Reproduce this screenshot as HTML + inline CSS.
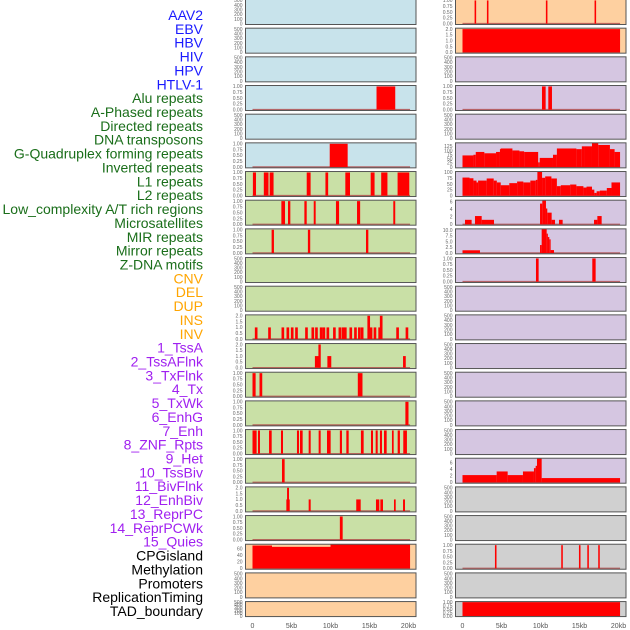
<!DOCTYPE html>
<html><head><meta charset="utf-8"><style>
html,body{margin:0;padding:0;background:#fff;}
svg{display:block;font-family:"Liberation Sans",sans-serif;}
</style></head><body>
<svg id="chart" width="630" height="630" viewBox="0 0 630 630"></svg>
<script>
// ---- data ----
const trackNames = ["AAV2","EBV","HBV","HIV","HPV","HTLV-1","Alu repeats","A-Phased repeats","Directed repeats","DNA transposons","G-Quadruplex forming repeats","Inverted repeats","L1 repeats","L2 repeats","Low_complexity A/T rich regions","Microsatellites","MIR repeats","Mirror repeats","Z-DNA motifs","CNV","DEL","DUP","INS","INV","1_TssA","2_TssAFlnk","3_TxFlnk","4_Tx","5_TxWk","6_EnhG","7_Enh","8_ZNF_Rpts","9_Het","10_TssBiv","11_BivFlnk","12_EnhBiv","13_ReprPC","14_ReprPCWk","15_Quies","CPGisland","Methylation","Promoters","ReplicationTiming","TAD_boundary"];
const trackGroups = ["v","v","v","v","v","v","r","r","r","r","r","r","r","r","r","r","r","r","r","s","s","s","s","s","c","c","c","c","c","c","c","c","c","c","c","c","c","c","c","o","o","o","o","o"];
const xTickValues = [0,5,10,15,20];
const xTickLabels = ["0","5kb","10kb","15kb","20kb"];
// segments: [startKb, endKb, value]
const segL3 = [[15.9,18.3,1]];
const segL5 = [[9.9,12.2,1]];
const segL6 = [[0.05,0.45,1],[1.45,2.05,1],[2.2,2.7,1],[6.95,7.45,1],[9.35,9.7,1],[11.9,12.5,1],[15.15,15.65,1],[16.5,17.3,1],[18.6,20.1,1]];
const segL7 = [[3.7,4.17,1],[4.55,4.85,1],[6.65,6.95,1],[7.85,8.1,1],[10.7,11.1,1],[13.4,13.8,1],[18.05,18.3,1]];
const segL8 = [[2.45,2.75,1],[7.1,7.4,1],[14.55,14.85,1]];
const mirPos = [0.47,2.18,3.89,4.53,5.09,5.64,6.92,7.73,8.2,8.8,9.15,9.66,10.5,11.2,11.6,11.9,12.6,13.2,13.7,14.06,14.9,15.2,15.7,16.3,16.5,18.6,19.8];
const mirVal = [1,1,1,1,1,1,1,1,1,1,1,1,1,1,1,1,1,1,1,1,2,1,1,1,2,1,1];
const segL12 = [[8.0,8.7,1],[8.45,8.75,2],[9.6,10.1,1],[19.3,19.65,1]];
const segL13 = [[0,0.4,1],[0.9,1.25,1],[13.5,14.1,1]];
const segL14 = [[19.6,20.0,1]];
const segL15 = [[0,0.53,1],[0.7,0.96,1],[2.12,2.46,1],[3.65,3.91,1],[5.7,5.96,1],[6.09,6.43,1],[7.2,7.46,1],[8.48,8.74,1],[9.55,10.02,1],[11.2,11.47,1],[12.03,12.33,1],[13.9,14.25,1],[15.19,15.45,1],[15.79,16.05,1],[16.34,16.6,1],[16.86,17.2,1],[17.88,18.1,1],[18.61,18.9,1],[19.33,19.8,1]];
const segL16 = [[3.78,4.12,1]];
const segL17 = [[4.34,4.77,1],[4.43,4.68,2],[7.2,7.46,1],[13.3,13.87,1],[15.83,16.26,1],[16.39,16.73,1],[18.14,18.36,1],[19.3,19.55,1]];
const segL18 = [[11.2,11.56,1]];
const segL19 = [[0,2.5,70],[2.5,10,66],[10,20.2,73]];
const segR0 = [[1.55,1.75,1],[3.13,3.33,1],[10.69,10.89,1],[16.93,17.13,1]];
const segR1 = [[0,20.2,2]];
const segR3 = [[10.19,10.66,1],[11.0,11.47,1]];
const segR5 = [[0,1.4,70],[1.4,1.7,74],[1.7,2.8,91],[2.8,4.3,83],[4.3,4.8,91],[4.8,4.9,108],[4.9,6.4,112],[6.4,7.3,100],[7.3,7.9,95],[7.9,9.7,91],[9.7,9.9,28],[9.9,11.6,55],[11.6,12.1,74],[12.1,14.6,112],[14.6,15.3,108],[15.3,15.7,125],[15.7,16.6,125],[16.6,17.4,145],[17.4,18.9,133],[18.9,19.5,108],[19.5,20.2,91]];
const segR6 = [[0,0.9,78],[0.9,1.4,75],[1.4,1.8,65],[1.8,2.0,57],[2.0,3.1,65],[3.1,4.0,74],[4.0,4.4,65],[4.4,4.9,57],[4.9,6.0,45],[6.0,7.0,54],[7.0,7.8,61],[7.8,8.7,57],[8.7,9.4,65],[9.4,9.6,68],[9.6,10.2,104],[10.2,10.6,77],[10.6,11.4,83],[11.4,12.1,74],[12.1,12.6,41],[12.6,13.8,45],[13.8,14.6,48],[14.6,15.5,41],[15.5,15.9,35],[15.9,16.6,39],[16.6,16.9,26],[16.9,17.2,12],[17.2,17.6,19],[17.6,18.5,22],[18.5,19.1,33],[19.1,20.2,57]];
const segR7 = [[0.32,1.17,1.2],[1.6,2.46,2.2],[2.46,4.04,1.2],[9.94,10.23,5.5],[10.23,10.7,6.3],[10.7,10.87,4.2],[10.87,11.43,3.1],[11.43,11.86,1.2],[12.37,12.84,1.2],[16.86,17.29,1.2],[17.29,17.84,2.2]];
const segR8 = [[0,2.24,1.2],[9.94,10.15,3.5],[10.15,10.79,10.5],[10.79,10.92,8.5],[10.92,11.13,7],[11.13,11.3,6],[11.3,11.73,1.3]];
const segR9 = [[9.42,9.76,1],[16.64,17.07,1]];
const segR16 = [[0,4.38,2.2],[4.38,5.79,3.3],[5.79,7.75,2.2],[7.75,9.16,3.3],[9.16,9.38,4.3],[9.38,9.55,5],[9.55,10.15,7.2],[10.15,20.2,1.3]];
const segR19 = [[4.16,4.36,1],[12.66,12.86,1],[14.93,15.13,1],[16.0,16.2,1],[17.4,17.6,1]];
const segR21 = [[0,20.2,1]];
const segL11 = mirPos.map((p,i)=>[p-0.17,p+0.17,mirVal[i]]);

// tick sets
const ticks500 = {v:[0,100,200,300,400,500], l:["0","100","200","300","400","500"], max:520};
const ticks1 = {v:[0,0.25,0.5,0.75,1], l:["0.00","0.25","0.50","0.75","1.00"], max:1.04};
const ticks2 = {v:[0,0.5,1,1.5,2], l:["0.0","0.5","1.0","1.5","2.0"], max:2.08};
const ticks125 = {v:[0,25,50,75,100,125], l:["0","25","50","75","100","125"], max:146};
const ticks100 = {v:[0,25,50,75,100], l:["0","25","50","75","100"], max:104};
const ticks6 = {v:[0,2,4,6], l:["0","2","4","6"], max:6.4};
const ticks10 = {v:[0,2.5,5,7.5,10], l:["0.0","2.5","5.0","7.5","10.0"], max:10.6};
const ticks60 = {v:[0,20,40,60], l:["0","20","40","60"], max:74};
const ticks7 = {v:[0,2,4,6], l:["0","2","4","6"], max:7.3};

const BG = {blue:"#c8e3eb", green:"#c9e0a6", orange:"#fed0a0", purple:"#d5c6e1", grey:"#d0d0d0"};
// panels: [col,row,bg,ticks,segments,nameIndex]
const panels = [
 [0,0,"blue",ticks500,null],[0,1,"blue",ticks500,null],[0,2,"blue",ticks500,null],[0,3,"blue",ticks1,segL3],[0,4,"blue",ticks500,null],[0,5,"blue",ticks1,segL5],
 [0,6,"green",ticks1,segL6],[0,7,"green",ticks1,segL7],[0,8,"green",ticks1,segL8],[0,9,"green",ticks500,null],[0,10,"green",ticks500,null],[0,11,"green",ticks2,segL11],[0,12,"green",ticks2,segL12],[0,13,"green",ticks1,segL13],[0,14,"green",ticks1,segL14],[0,15,"green",ticks1,segL15],[0,16,"green",ticks1,segL16],[0,17,"green",ticks2,segL17],[0,18,"green",ticks1,segL18],
 [0,19,"orange",ticks60,segL19],[0,20,"orange",ticks500,null],[0,21,"orange",ticks500,null],
 [1,0,"orange",ticks1,segR0],[1,1,"orange",ticks2,segR1],[1,2,"purple",ticks500,null],[1,3,"purple",ticks1,segR3],[1,4,"purple",ticks500,null],[1,5,"purple",ticks125,segR5],[1,6,"purple",ticks100,segR6],[1,7,"purple",ticks6,segR7],[1,8,"purple",ticks10,segR8],[1,9,"purple",ticks1,segR9],[1,10,"purple",ticks500,null],[1,11,"purple",ticks500,null],[1,12,"purple",ticks500,null],[1,13,"purple",ticks500,null],[1,14,"purple",ticks500,null],[1,15,"purple",ticks500,null],[1,16,"purple",ticks7,segR16],
 [1,17,"grey",ticks500,null],[1,18,"grey",ticks500,null],[1,19,"grey",ticks1,segR19],[1,20,"grey",ticks500,null],[1,21,"grey",ticks1,segR21]
];

const NS="http://www.w3.org/2000/svg";
const svg=document.getElementById('chart');
function mk(tag,attrs,parent){const e=document.createElementNS(NS,tag);for(const k in attrs)e.setAttribute(k,attrs[k]);(parent||svg).appendChild(e);return e;}
const colLeft=[245.5,455.5], colRight=[416,626], colX0=[252.5,462.5], pxPerKb=7.8;
function xScale(col,kb){return colX0[col]+kb*pxPerKb;}
function rowTop(r){return 28.67*r-0.5;}
function rowH(r){return r===21?15:25;}

// labels
const groupColor={v:"#1a1aff",r:"#1a6e1a",s:"#ffa500",c:"#a020f0",o:"#000"};
trackNames.forEach((n,i)=>{
  const t=mk('text',{x:203,y:20+13.86*i,'text-anchor':'end','font-size':'14px',fill:groupColor[trackGroups[i]]});
  t.textContent=n;
  
  
});

panels.forEach((p,pi)=>{
  const [col,row,bg,tk,segs]=p;
  const top=rowTop(row), h=rowH(row), L=colLeft[col], R=colRight[col];
  const ymin=-0.035*tk.max, ymax=tk.max;
  const yS=v=>top+h-((v-ymin)/(ymax-ymin))*h;
  const g=mk('g',{});
  
  
  const rect=mk('rect',{x:L,y:top,width:R-L,height:h,fill:BG[bg]},g);
  
  
  if(segs){
    const base=mk('line',{x1:xScale(col,0),x2:xScale(col,20.2),y1:yS(0),y2:yS(0),stroke:'#b04848','stroke-width':1.5,opacity:0.8},g);
    
    
    segs.forEach(s=>{
      const x1=xScale(col,s[0]), x2=xScale(col,s[1]);
      const b=mk('rect',{x:x1,y:yS(s[2]),width:Math.max(x2-x1,1.2),height:yS(0)-yS(s[2]),fill:'#ff0000'},g);
      
      
    });
  }
  const border=mk('rect',{x:L,y:top,width:R-L,height:h,fill:'none',stroke:'#555','stroke-width':1},g);
  
  
  tk.v.forEach((v,i)=>{
    const t=mk('text',{x:L-3,y:yS(v)+1.8,'text-anchor':'end','font-size':'5px',fill:'#666'},g);
    t.textContent=tk.l[i];
    
    
  });
});

[0,1].forEach(col=>{
  xTickValues.forEach((v,i)=>{
    const t=mk('text',{x:xScale(col,v),y:628,'text-anchor':'middle','font-size':'7px',fill:'#555'});
    t.textContent=xTickLabels[i];
    
    
  });
});
</script>
</body></html>
